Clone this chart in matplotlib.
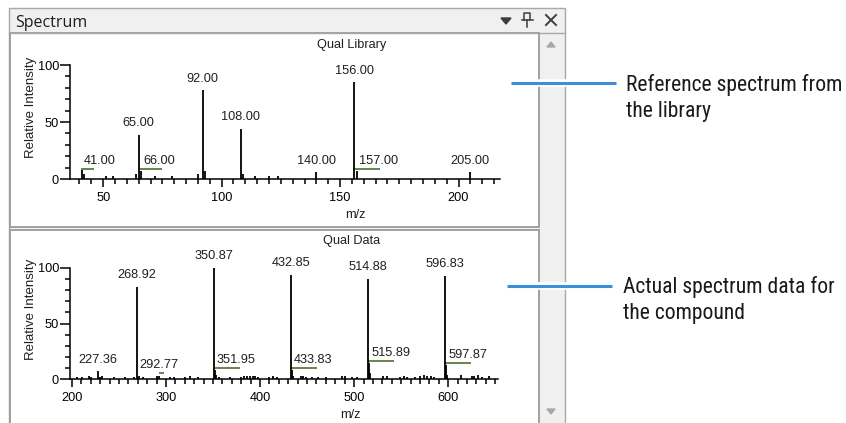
import numpy as np
import matplotlib
matplotlib.use("Agg")
import matplotlib.pyplot as plt
from matplotlib.patches import Rectangle, Polygon
from matplotlib.colors import LinearSegmentedColormap
from matplotlib.ticker import MultipleLocator

plt.rcParams['font.family'] = ['Liberation Sans', 'DejaVu Sans']

W, H = 846, 423

# Qual Library (reference spectrum)
lib_mz = [41, 42, 51, 54, 64, 65, 66, 72, 79, 90, 92, 93, 108, 109, 114, 120, 124, 140, 156, 157, 205]
lib_int = [8, 4, 3, 3, 4, 39, 7, 3, 3, 4, 78, 7, 44, 4, 3, 3, 3, 6, 85, 7, 6]
lib_labels = [41.00, 65.00, 66.00, 92.00, 108.00, 140.00, 156.00, 157.00, 205.00]
lib_iso_start = [40.6, 65.4, 155.7]
lib_iso_end = [46.1, 74.7, 167.0]
lib_iso_level = [8.8, 8.8, 8.8]
lib_left_labels = [41.00, 66.00, 157.00]

# Qual Data (measured spectrum)
qd_mz = [205, 211, 218, 220, 227.36, 230, 232, 245, 256, 266, 268.92, 270.9, 275, 290, 292.77,
         304, 308, 320, 325, 334, 350.87, 351.95, 352.9, 356, 368, 380, 383, 386, 389, 392, 395,
         398, 410, 414, 418, 432.85, 433.83, 434.9, 443, 446, 449, 455, 462, 470, 487, 490, 498,
         503, 514.88, 515.89, 516.9, 531, 535, 549, 553, 556, 565, 570, 574, 578, 582, 585,
         596.83, 597.87, 598.9, 614, 625, 628, 632, 636, 643]
qd_int = [2, 2, 2.5, 1.5, 7, 2, 3, 1.5, 1.5, 2, 83, 3, 2, 2.5, 3,
          2, 1.5, 2, 2.5, 2, 100, 8, 4, 2, 1.5, 2, 2.5, 2.5, 2.5, 2.5, 3,
          2, 2, 2.5, 2, 94, 8, 3, 3, 2.5, 2, 2, 2, 2, 3, 2.5, 2,
          2, 90.5, 14, 5, 3, 2.5, 2, 3, 2, 2, 3, 3.5, 2.5, 3, 2,
          93, 12.5, 4, 3.5, 3, 2.5, 3.5, 2, 3]
qd_labels = [227.36, 268.92, 292.77, 350.87, 351.95, 432.85, 433.83, 514.88, 515.89, 596.83, 597.87]
qd_iso_start = [292.6, 350.9, 432.8, 514.9, 596.8]
qd_iso_end = [298.0, 378.7, 460.3, 542.6, 624.5]
qd_iso_level = [5.4, 9.6, 9.6, 16.2, 14.6]
qd_left_labels = [351.95, 433.83, 515.89, 597.87]

fig = plt.figure(figsize=(W / 100, H / 100), dpi=100)
fig.patch.set_facecolor('white')

# window chrome, drawn in pixel coordinates
bg = fig.add_axes([0, 0, 1, 1])
bg.axis('off')
bg.add_patch(Rectangle((9, 8), 556, 430, facecolor='#f0f0f0', edgecolor='#a8a8a8', lw=1))
grad = LinearSegmentedColormap.from_list('tb', ['#ecf0f6', '#d7e0eb'])
bg.imshow(np.linspace(0, 1, 40).reshape(-1, 1), cmap=grad, extent=(9.5, 564.5, 33, 8.5), aspect='auto')
bg.plot([9, 565], [33, 33], color='#a8a8a8', lw=1)
bg.add_patch(Rectangle((10, 33.5), 529, 194, facecolor='white', edgecolor='#9a9a9a', lw=1.3))
bg.add_patch(Rectangle((10, 230), 529, 200, facecolor='white', edgecolor='#9a9a9a', lw=1.3))
bg.text(15, 27, 'Spectrum', fontsize=11.5, family=['Open Sans', 'DejaVu Sans'], color='#1e1e1e', va='baseline')

# title bar icons
bg.add_patch(Polygon([(501, 18), (511, 18), (506, 24)], color='#3c3c3c'))
bg.plot([524, 524, 530, 530], [20, 13, 13, 20], color='#3c3c3c', lw=1.1)
bg.plot([521.5, 532.5], [20, 20], color='#3c3c3c', lw=1.1)
bg.plot([527, 527], [20, 27], color='#3c3c3c', lw=1.1)
bg.plot([546, 556], [15, 25], color='#3c3c3c', lw=1.4)
bg.plot([546, 556], [25, 15], color='#3c3c3c', lw=1.4)
# scrollbar arrows
bg.add_patch(Polygon([(547, 47), (555, 47), (551, 42)], color='#a8a8a8'))
bg.add_patch(Polygon([(547, 409), (555, 409), (551, 414)], color='#a8a8a8'))

# callouts
for x0, x1, y in [(511, 616, 83), (507, 612, 286)]:
    bg.plot([x0, x1], [y, y], color='white', lw=5.5, solid_capstyle='butt')
    bg.plot([x0, x1], [y, y], color='#3c8fdc', lw=2.2, solid_capstyle='butt')
cfont = ['Roboto Condensed', 'Liberation Sans Narrow', 'Roboto', 'DejaVu Sans']
bg.text(626, 91, 'Reference spectrum from', fontsize=15.6, family=cfont, color='#1a1a1a', va='baseline')
bg.text(626, 117, 'the library', fontsize=15.6, family=cfont, color='#1a1a1a', va='baseline')
bg.text(623, 293, 'Actual spectrum data for', fontsize=15.6, family=cfont, color='#1a1a1a', va='baseline')
bg.text(623, 319, 'the compound', fontsize=15.6, family=cfont, color='#1a1a1a', va='baseline')

bg.set_xlim(0, W)
bg.set_ylim(H, 0)


def px_axes(x0, x1, y_top, y_bottom):
    return fig.add_axes([x0 / W, 1 - y_bottom / H, (x1 - x0) / W, (y_bottom - y_top) / H])


def draw_spectrum(ax, mz, inten, labels, iso_start, iso_end, iso_level, left_labels,
                  xlim, xmajor, xminor, title, title_xy, xlabel_xy, ylabel_xy):
    ax.set_facecolor('none')
    ax.vlines(mz, 0, inten, color='black', lw=1.3, zorder=3)
    ax.hlines(iso_level, iso_start, iso_end, color='#5b7b3b', lw=1.3, zorder=2)
    for lab in labels:
        i = int(np.argmin([abs(m - lab) for m in mz]))
        top = inten[i]
        off = 4
        for s, e, lv in zip(iso_start, iso_end, iso_level):
            if s - 1 <= lab <= e and lv > top:
                top = lv
                off = 1.5
        if lab in left_labels:
            ax.annotate(f'{lab:.2f}', (lab, top), xytext=(1.5, off), textcoords='offset points',
                        ha='left', va='bottom', fontsize=9.2, color='#1f1f1f')
        else:
            ax.annotate(f'{lab:.2f}', (lab, top), xytext=(0, off), textcoords='offset points',
                        ha='center', va='bottom', fontsize=9.2, color='#1f1f1f')
    ax.set_xlim(*xlim)
    ax.set_ylim(0, 100)
    for s in ['top', 'right']:
        ax.spines[s].set_visible(False)
    for s in ['left', 'bottom']:
        ax.spines[s].set_linewidth(1.1)
    ax.xaxis.set_major_locator(MultipleLocator(xmajor))
    ax.xaxis.set_minor_locator(MultipleLocator(xminor))
    ax.yaxis.set_major_locator(MultipleLocator(50))
    ax.yaxis.set_minor_locator(MultipleLocator(10))
    ax.tick_params(axis='x', which='major', length=6, width=1.1, pad=3, labelsize=9.2)
    ax.tick_params(axis='x', which='minor', length=3.8, width=1.1)
    ax.tick_params(axis='y', which='major', length=7, width=1.1, pad=1, labelsize=9.2)
    ax.tick_params(axis='y', which='minor', length=3.8, width=1.1)
    fig.text(title_xy[0] / W, 1 - title_xy[1] / H, title, ha='center', va='center',
             fontsize=9.2, color='#1f1f1f')
    fig.text(xlabel_xy[0] / W, 1 - xlabel_xy[1] / H, 'm/z', ha='center', va='center',
             fontsize=9.2, color='#1f1f1f')
    fig.text(ylabel_xy[0] / W, 1 - ylabel_xy[1] / H, 'Relative Intensity', ha='center', va='center',
             rotation=90, fontsize=9.5, color='#1f1f1f')


ax1 = px_axes(70, 500, 65, 179)
draw_spectrum(ax1, lib_mz, lib_int, lib_labels, lib_iso_start, lib_iso_end, lib_iso_level,
              lib_left_labels, (36, 217.5), 50, 5, 'Qual Library', (352, 45), (355, 215), (31, 107))

ax2 = px_axes(70, 498, 268, 379)
draw_spectrum(ax2, qd_mz, qd_int, qd_labels, qd_iso_start, qd_iso_end, qd_iso_level,
              qd_left_labels, (197.9, 653), 100, 10, 'Qual Data', (352, 241), (350, 415), (31, 309))

fig.savefig('out.png', dpi=100)
